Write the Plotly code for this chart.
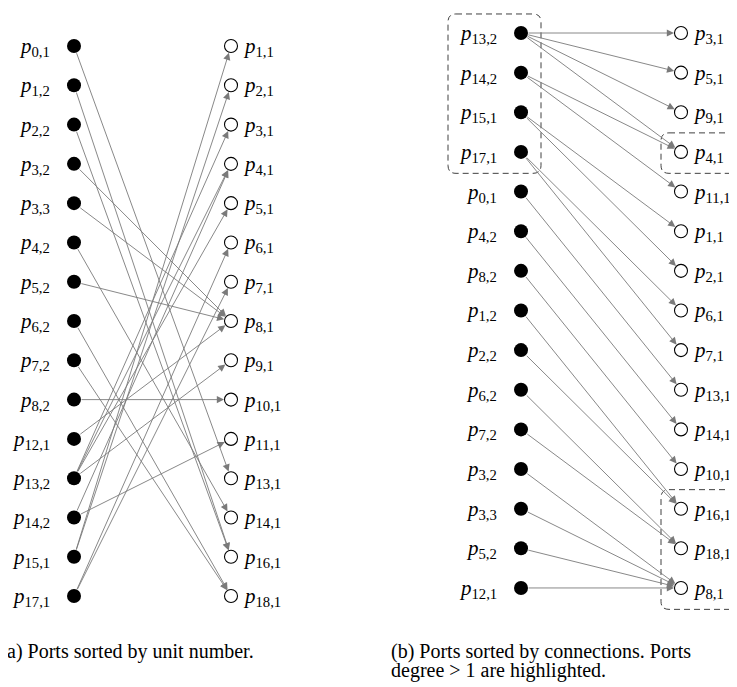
import plotly.graph_objects as go

# ---------------- data ----------------
# Panel (a): ports sorted by unit number
a_sources = ["0,1", "1,2", "2,2", "3,2", "3,3", "4,2", "5,2", "6,2", "7,2", "8,2",
             "12,1", "13,2", "14,2", "15,1", "17,1"]
a_targets = ["1,1", "2,1", "3,1", "4,1", "5,1", "6,1", "7,1", "8,1", "9,1", "10,1",
             "11,1", "13,1", "14,1", "16,1", "18,1"]
# Panel (b): ports sorted by connections
b_sources = ["13,2", "14,2", "15,1", "17,1", "0,1", "4,2", "8,2", "1,2", "2,2", "6,2",
             "7,2", "3,2", "3,3", "5,2", "12,1"]
b_targets = ["3,1", "5,1", "9,1", "4,1", "11,1", "1,1", "2,1", "6,1", "7,1", "13,1",
             "14,1", "10,1", "16,1", "18,1", "8,1"]
# connections (source port -> target port)
edges = [
    ("13,2", "3,1"), ("13,2", "5,1"), ("13,2", "9,1"), ("13,2", "4,1"),
    ("14,2", "4,1"), ("14,2", "11,1"),
    ("15,1", "1,1"), ("15,1", "2,1"),
    ("17,1", "6,1"), ("17,1", "7,1"),
    ("0,1", "13,1"), ("4,2", "14,1"), ("8,2", "10,1"),
    ("1,2", "16,1"), ("2,2", "16,1"),
    ("6,2", "18,1"), ("7,2", "18,1"),
    ("3,2", "8,1"), ("3,3", "8,1"), ("5,2", "8,1"), ("12,1", "8,1"),
]
caption_a = ["a) Ports sorted by unit number."]
caption_b = ["(b) Ports sorted by connections. Ports", "degree &gt; 1 are highlighted."]

# ---------------- layout constants ----------------
W, H = 737, 687
FONT = "Liberation Serif"
EDGE_COLOR = "#7a7a7a"
panels = [
    dict(src=a_sources, tgt=a_targets, xs=66, xt=223, yax="y", y0=38, dy=39.29, box=False),
    dict(src=b_sources, tgt=b_targets, xs=513, xt=673, yax="y2", y0=25, dy=39.64, box=True),
]

fig = go.Figure()
annotations = []
shapes = []

out_deg, in_deg = {}, {}
for s, t in edges:
    out_deg[s] = out_deg.get(s, 0) + 1
    in_deg[t] = in_deg.get(t, 0) + 1


def label(name):
    return "<i>p</i><sub>%s</sub>" % name


def runs(flags):
    res, start = [], None
    for i, f in enumerate(flags + [False]):
        if f and start is None:
            start = i
        if not f and start is not None:
            res.append((start, i - 1))
            start = None
    return res


def rounded_path(x0, x1, y0, y1, rx, ry):
    return (f"M {x0+rx},{y0} L {x1-rx},{y0} Q {x1},{y0} {x1},{y0+ry} "
            f"L {x1},{y1-ry} Q {x1},{y1} {x1-rx},{y1} L {x0+rx},{y1} "
            f"Q {x0},{y1} {x0},{y1-ry} L {x0},{y0+ry} Q {x0},{y0} {x0+rx},{y0} Z")


for p in panels:
    n = len(p["src"])
    # arrows
    for s, t in edges:
        rs = p["src"].index(s)
        rt = p["tgt"].index(t)
        annotations.append(dict(
            x=p["xt"], y=rt, ax=p["xs"], ay=rs,
            xref="x", yref=p["yax"], axref="x", ayref=p["yax"],
            showarrow=True, arrowhead=2, arrowsize=1.6, arrowwidth=0.9,
            arrowcolor=EDGE_COLOR, standoff=7, startstandoff=6, text=""))
    # source dots
    fig.add_trace(go.Scatter(
        x=[p["xs"]] * n, y=list(range(n)), yaxis=p["yax"], mode="markers",
        marker=dict(size=14, color="black", line=dict(width=0)),
        hoverinfo="skip", showlegend=False))
    # target circles
    fig.add_trace(go.Scatter(
        x=[p["xt"]] * len(p["tgt"]), y=list(range(len(p["tgt"]))), yaxis=p["yax"],
        mode="markers",
        marker=dict(size=13, color="white", line=dict(width=1.1, color="black")),
        hoverinfo="skip", showlegend=False))
    # labels
    for i, s in enumerate(p["src"]):
        annotations.append(dict(
            x=p["xs"], y=i, xref="x", yref=p["yax"], text=label(s), showarrow=False,
            xanchor="right", yanchor="middle", xshift=-22, yshift=-1,
            font=dict(family=FONT, size=21, color="black")))
    for i, t in enumerate(p["tgt"]):
        annotations.append(dict(
            x=p["xt"], y=i, xref="x", yref=p["yax"], text=label(t), showarrow=False,
            xanchor="left", yanchor="middle", xshift=10, yshift=-1,
            font=dict(family=FONT, size=21, color="black")))
    # highlight boxes (degree > 1)
    if p["box"]:
        ry = 8 / p["dy"]
        for a, b in runs([out_deg.get(s, 0) > 1 for s in p["src"]]):
            shapes.append(dict(type="path", xref="x", yref=p["yax"],
                               path=rounded_path(p["xs"] - 73, p["xs"] + 20, a - 0.48, b + 0.54, 8, ry),
                               line=dict(color="#404040", width=1, dash="6px,4px")))
        for a, b in runs([in_deg.get(t, 0) > 1 for t in p["tgt"]]):
            shapes.append(dict(type="path", xref="x", yref=p["yax"],
                               path=rounded_path(p["xt"] - 20, p["xt"] + 62, a - 0.48, b + 0.54, 8, ry),
                               line=dict(color="#404040", width=1, dash="6px,4px")))

# captions (one annotation per line)
CAP_SIZE = 20
for k, line in enumerate(caption_a):
    annotations.append(dict(x=-3 / W, y=1 - (643 + 19 * k) / H, xref="paper", yref="paper",
                            text=line, showarrow=False, xanchor="left", yanchor="middle",
                            font=dict(family=FONT, size=CAP_SIZE, color="black")))
for k, line in enumerate(caption_b):
    annotations.append(dict(x=381 / W, y=1 - (643 + 19 * k) / H, xref="paper", yref="paper",
                            text=line, showarrow=False, xanchor="left", yanchor="middle",
                            font=dict(family=FONT, size=CAP_SIZE, color="black")))


def yrange(p):
    return [(H - p["y0"]) / p["dy"], -p["y0"] / p["dy"]]


fig.update_layout(
    width=W, height=H, margin=dict(l=0, r=0, t=0, b=0),
    paper_bgcolor="white", plot_bgcolor="white",
    xaxis=dict(range=[0, W], visible=False, fixedrange=True),
    yaxis=dict(range=yrange(panels[0]), visible=False, fixedrange=True),
    yaxis2=dict(range=yrange(panels[1]), visible=False, overlaying="y", fixedrange=True),
    annotations=annotations, shapes=shapes, showlegend=False,
)

fig.write_html("out.html")
